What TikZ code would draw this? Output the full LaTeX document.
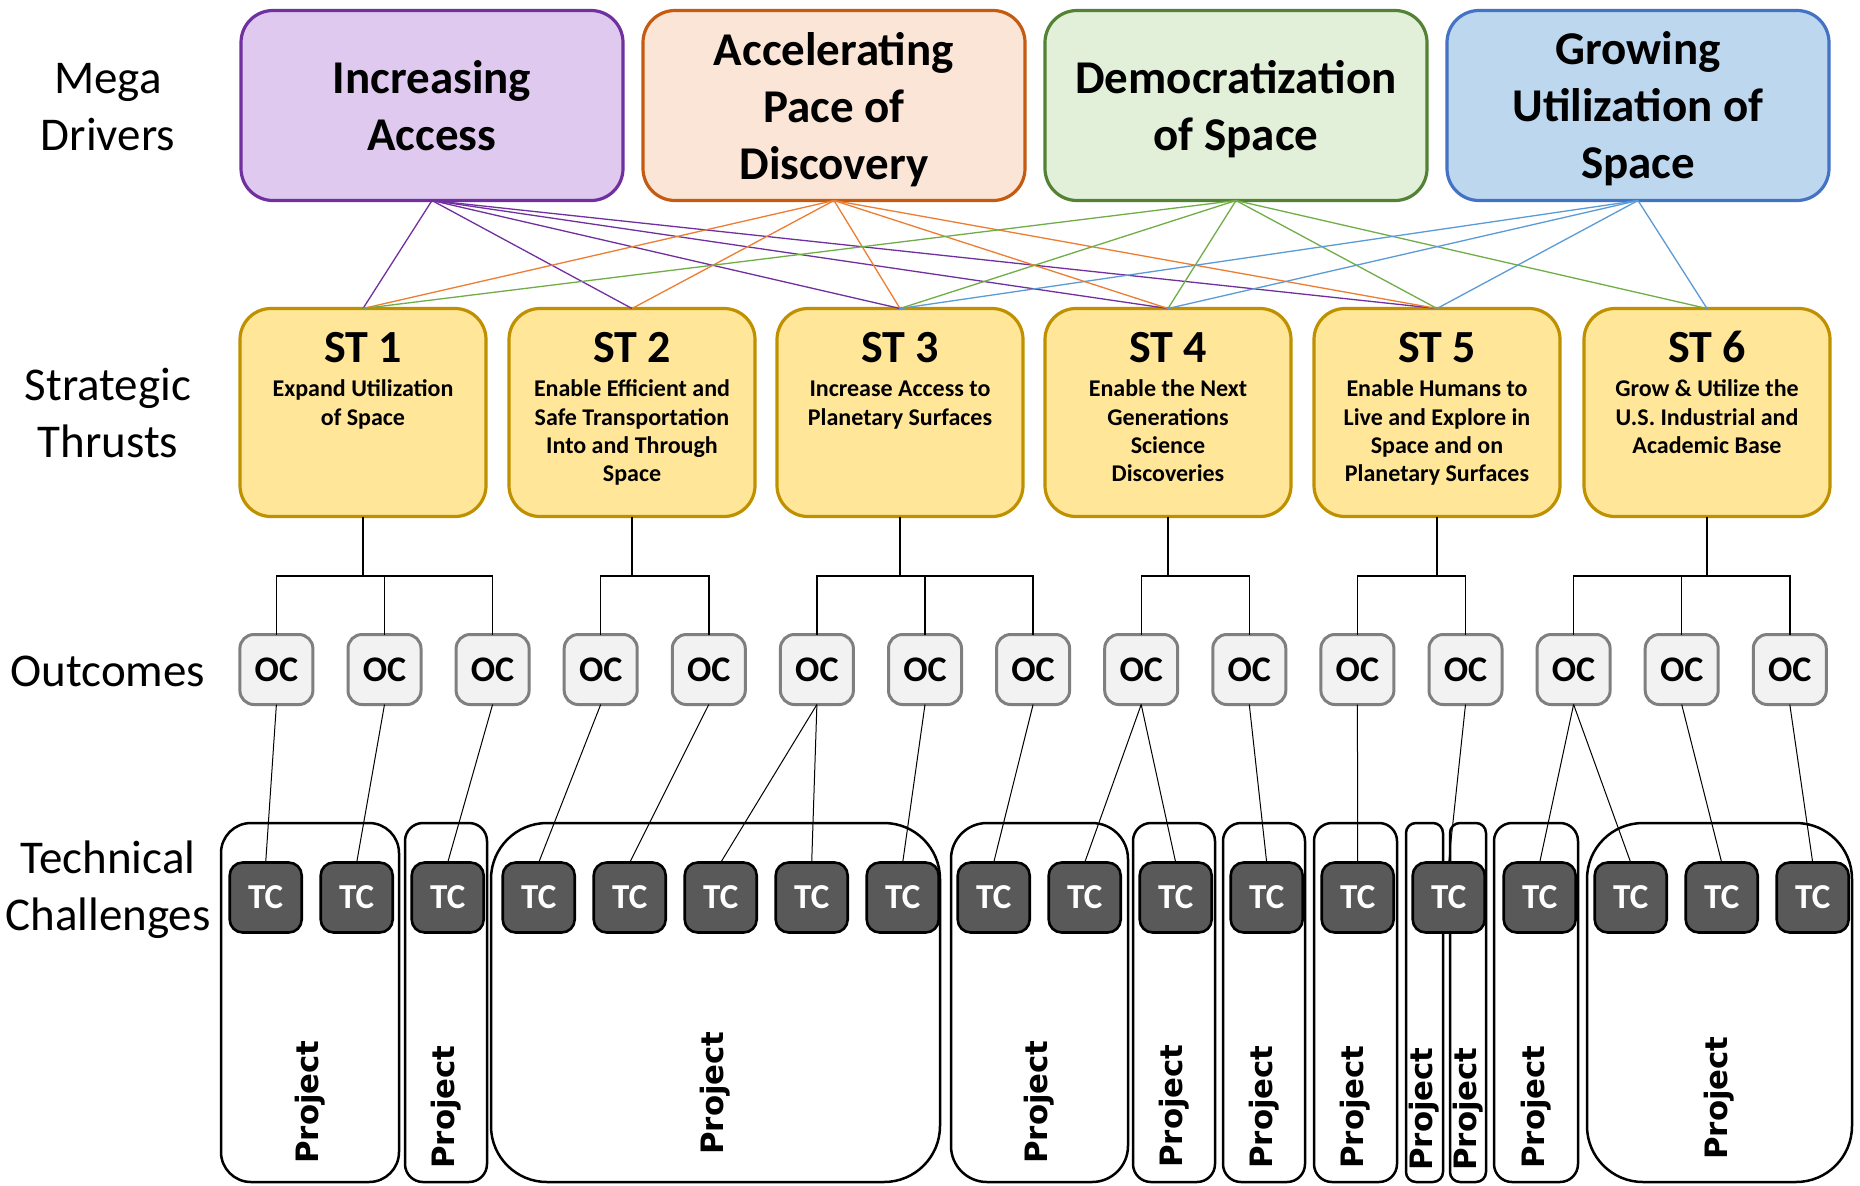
\documentclass[tikz,border=0pt]{standalone}
\usepackage{fontspec}
\setmainfont{Carlito}
\newfontfamily\projfont{DejaVu Sans}
\usetikzlibrary{positioning,calc}
\definecolor{mdpurple}{HTML}{7030A0}
\definecolor{mdpurplefill}{HTML}{DFC9EE}
\definecolor{mdorange}{HTML}{C55A11}
\definecolor{mdorangefill}{HTML}{FBE5D6}
\definecolor{mdgreen}{HTML}{548235}
\definecolor{mdgreenfill}{HTML}{E2F0D9}
\definecolor{mdblue}{HTML}{4472C4}
\definecolor{mdbluefill}{HTML}{BDD7EE}
\definecolor{linepurple}{HTML}{7030A0}
\definecolor{lineorange}{HTML}{ED7D31}
\definecolor{linegreen}{HTML}{70AD47}
\definecolor{lineblue}{HTML}{5B9BD5}
\definecolor{stline}{HTML}{BF9000}
\definecolor{stfill}{HTML}{FFE699}
\definecolor{ocline}{HTML}{7F7F7F}
\definecolor{ocfill}{HTML}{F2F2F2}
\definecolor{tcfill}{HTML}{595959}
\tikzset{
  rowlab/.style    = {font=\fontsize{23.5}{28.5}\selectfont, align=center, inner sep=0pt, text depth=0pt},
  driver/.style    = {line width=1.6pt, rounded corners=16pt, minimum width=191pt, minimum height=95pt, inner sep=0pt, outer sep=0pt,
                      align=center, text depth=0pt, font=\fontsize{23.5}{28.5}\selectfont\bfseries},
  thrust/.style    = {draw=stline, fill=stfill, line width=1.6pt, rounded corners=15.5pt, minimum width=123pt, minimum height=104pt, inner sep=0pt, outer sep=0pt},
  sttitle/.style   = {font=\fontsize{23}{27}\selectfont\bfseries, anchor=base, inner sep=0pt},
  stdesc/.style    = {font=\fontsize{12}{14.2}\selectfont\bfseries, align=center, anchor=base, inner sep=0pt},
  outcome/.style   = {draw=ocline, fill=ocfill, line width=1.5pt, rounded corners=7pt, minimum width=36.5pt, minimum height=35pt,
                      inner sep=0pt, outer sep=0pt, font=\fontsize{18}{20}\selectfont\bfseries},
  challenge/.style = {draw=black, fill=tcfill, line width=1.3pt, rounded corners=6.5pt, minimum width=36pt, minimum height=35pt,
                      inner sep=0pt, outer sep=0pt, text=white, font=\fontsize{17.5}{20}\selectfont\bfseries},
  projbox/.style   = {draw=black, line width=1.25pt},
  projlab/.style   = {rotate=90, font=\projfont\bfseries\fontsize{15.4}{17}\selectfont, inner sep=0pt},
  tree/.style      = {draw=black, line width=0.7pt},
  link/.style      = {draw=black, line width=0.5pt},
  drive/.style     = {line width=0.65pt},
}

\begin{document}
\begin{tikzpicture}[x=0.5pt,y=-0.5pt]
\fill[white, use as bounding box] (0,0) rectangle (1860,1185);

% ---- row labels ---------------------------------------------------------
\node[rowlab] (labmd) at (108,106.5) {Mega\\Drivers};
\node[rowlab] (labst) at (108,412.5) {Strategic\\Thrusts};
\node[rowlab] (laboc) at (108,671)   {Outcomes};
\node[rowlab] (labtc) at (108,885.5) {Technical\\Challenges};

% ---- mega drivers -------------------------------------------------------
\node[driver, draw=mdpurple, fill=mdpurplefill] (md1) at (432,105.5)  {Increasing\\Access};
\node[driver, draw=mdorange, fill=mdorangefill] (md2) at (834,105.5)  {Accelerating\\Pace of\\Discovery};
\node[driver, draw=mdgreen,  fill=mdgreenfill]  (md3) at (1236,105.5) {Democratization\\of Space};
\node[driver, draw=mdblue,   fill=mdbluefill]   (md4) at (1638,105.5) {Growing\\Utilization of\\Space};

% ---- strategic thrusts --------------------------------------------------
% base of a multi-line node sits on its last line
\foreach \i/\x/\n/\txt in {%
  1/363/2/{Expand Utilization\\of Space},
  2/632/4/{Enable Efficient and\\Safe Transportation\\Into and Through\\Space},
  3/900/2/{Increase Access to\\Planetary Surfaces},
  4/1168/4/{Enable the Next\\Generations\\Science\\Discoveries},
  5/1437/4/{Enable Humans to\\Live and Explore in\\Space and on\\Planetary Surfaces},
  6/1707/3/{Grow \& Utilize the\\U.S. Industrial and\\Academic Base}} {
  \node[thrust]  (st\i)  at (\x,412.5) {};
  \node[sttitle] (stt\i) at (\x,362)   {ST \i};
  \node[stdesc]  (std\i) at (\x,{396.7+28.4*(\n-1)}) {\txt};
}

% ---- outcomes -----------------------------------------------------------
\foreach \i in {1,...,15}
  \node[outcome] (oc\i) at ({276.4+108.1*(\i-1)},669.5) {OC};

% ---- projects -----------------------------------------------------------
\foreach \l/\r/\rad/\ly [count=\k] in {220/400/15/1102, 404/488/9/1107, 490/941/28/1093, 950/1129/18/1102,
  1132/1216/9/1106, 1222/1306/9/1107, 1313/1398/9/1107, 1405/1444/5/1109, 1449/1487/5/1109,
  1493/1579/9/1107, 1586/1853/28/1098} {
  \draw[projbox, rounded corners=\rad pt] (\l+1,823) rectangle (\r-1,1182);
  \node[projlab] (pj\k) at ({(\l+\r)/2},\ly) {Project};
}

% ---- technical challenges -----------------------------------------------
\foreach \j in {1,...,18}
  \node[challenge] (tc\j) at ({265.7+91*(\j-1)},897.5) {TC};

% ---- drivers to thrusts -------------------------------------------------
\foreach \t in {1,...,5} \draw[drive, draw=linepurple] (md1.south) -- (st\t.north);
\foreach \t in {1,...,5} \draw[drive, draw=lineorange] (md2.south) -- (st\t.north);
\foreach \t in {1,3,4,5,6} \draw[drive, draw=linegreen] (md3.south) -- (st\t.north);
\foreach \t in {3,4,5,6} \draw[drive, draw=lineblue] (md4.south) -- (st\t.north);

% ---- thrusts to outcomes ------------------------------------------------
\coordinate (barlevel) at (0,576);
\foreach \s/\a/\b in {1/1/3, 2/4/5, 3/6/8, 4/9/10, 5/11/12, 6/13/15} {
  \draw[tree] (st\s.south) -- (st\s.south |- barlevel);
  \draw[tree] (oc\a.north) -- (oc\a.north |- barlevel) -- (oc\b.north |- barlevel) -- (oc\b.north);
  \foreach \o in {\a,...,\b} \draw[tree] (oc\o.north |- barlevel) -- (oc\o.north);
}

% ---- outcomes to challenges ---------------------------------------------
\foreach \o/\t in {1/1, 2/2, 3/3, 4/4, 5/5, 6/6, 6/7, 7/8, 8/9, 9/10, 9/11, 10/12, 11/13, 12/14, 13/15, 13/16, 14/17, 15/18}
  \draw[link] (oc\o.south) -- (tc\t.north);

\end{tikzpicture}
\end{document}
